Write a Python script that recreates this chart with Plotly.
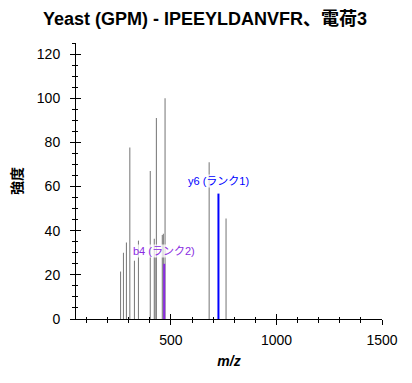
import plotly.graph_objects as go

# Data
gray_mz = [261, 275, 289, 305, 327, 346, 402, 421, 425, 431, 459, 464, 472, 681, 761]
gray_int = [21.5, 30, 34.7, 77.7, 26.4, 35.5, 67, 36.4, 28, 91, 38, 38.6, 100, 71, 45.5]

ann_labels = ["y6 (ランク1)", "b4 (ランク2)"]
ann_mz = [725, 468]
ann_int = [56.8, 25]
ann_colors = ["#0000FF", "#8A2BE2"]

title_text = "Yeast (GPM) - IPEEYLDANVFR、電荷3"
x_title = "m/z"
y_title = "強度"

FONT = "Liberation Sans, Arial, Noto Sans CJK JP, sans-serif"


def sticks(xs, ys):
    px, py = [], []
    for x, y in zip(xs, ys):
        px += [x, x, None]
        py += [0, y, None]
    return px, py


fig = go.Figure()
gx, gy = sticks(gray_mz, gray_int)
fig.add_trace(go.Scatter(x=gx, y=gy, mode="lines",
                         line=dict(color="#808080", width=1.1),
                         hoverinfo="skip", showlegend=False))
for lab, mz, it, col in zip(ann_labels, ann_mz, ann_int, ann_colors):
    sx, sy = sticks([mz], [it])
    fig.add_trace(go.Scatter(x=sx, y=sy, mode="lines",
                             line=dict(color=col, width=2),
                             hoverinfo="skip", showlegend=False))
    fig.add_annotation(x=mz, y=it, text=lab, showarrow=False, yshift=13,
                       font=dict(family=FONT, size=11, color=col),
                       bgcolor="rgba(255,255,255,0.75)", borderpad=0)

# invisible trace for overlay axes (inside ticks)
fig.add_trace(go.Scatter(x=[None], y=[None], xaxis="x2", yaxis="y2",
                         showlegend=False, hoverinfo="skip"))

xr = [50, 1500]
yr = [0, 125]

fig.update_layout(
    width=412, height=383,
    margin=dict(l=68, r=38, t=35, b=72, autoexpand=False),
    paper_bgcolor="white", plot_bgcolor="white",
    font=dict(family=FONT, size=14, color="black"),
    title=dict(text="<b>" + title_text + "</b>", x=0.478, xanchor="center",
               y=0.971, yanchor="middle", automargin=False,
               font=dict(family=FONT, size=18, color="black")),
    showlegend=False,
    xaxis=dict(range=xr, showgrid=False, zeroline=False, showline=True,
               linecolor="black", linewidth=1, ticks="outside", ticklen=5,
               tickcolor="black", tick0=0, dtick=500, automargin=False,
               minor=dict(ticks="outside", ticklen=3, dtick=100, tick0=0,
                          tickcolor="black", showgrid=False),
               ticklabelstandoff=3,
               title=dict(text="<b><i>" + x_title + "</i></b>", standoff=9,
                          font=dict(size=14))),
    yaxis=dict(range=yr, showgrid=False, zeroline=False, showline=True,
               linecolor="black", linewidth=1, ticks="outside", ticklen=5,
               tickcolor="black", tick0=0, dtick=20, automargin=False,
               minor=dict(ticks="outside", ticklen=3, dtick=5, tick0=0,
                          tickcolor="black", showgrid=False),
               ticklabelstandoff=7,
               title=dict(text="<b>" + y_title + "</b>", standoff=10,
                          font=dict(size=14))),
    xaxis2=dict(range=xr, overlaying="x", anchor="y", side="bottom",
                showgrid=False, zeroline=False, showline=False,
                showticklabels=False, ticks="inside", ticklen=5,
                tickcolor="black", tick0=0, dtick=500, automargin=False,
                minor=dict(ticks="inside", ticklen=2, dtick=100, tick0=0,
                           tickcolor="black")),
    yaxis2=dict(range=yr, overlaying="y", anchor="x", side="left",
                showgrid=False, zeroline=False, showline=False,
                showticklabels=False, ticks="inside", ticklen=5,
                tickcolor="black", tick0=0, dtick=20, automargin=False,
                minor=dict(ticks="inside", ticklen=2, dtick=5, tick0=0,
                           tickcolor="black")),
)

fig.write_html("out.html")
